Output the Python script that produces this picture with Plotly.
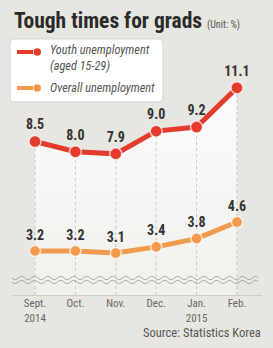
import numpy as np
import plotly.graph_objects as go

months = ["Sept.<br>2014", "Oct.", "Nov.", "Dec.", "Jan.<br>2015", "Feb."]
youth = [8.5, 8.0, 7.9, 9.0, 9.2, 11.1]
overall = [3.2, 3.2, 3.1, 3.4, 3.8, 4.6]
youth_labels = [f"{v:.1f}" for v in youth]
overall_labels = [f"{v:.1f}" for v in overall]
series_names = ["Youth unemployment<br>(aged 15-29)", "Overall unemployment"]

W, H = 273, 348
ML, MR, MT, MB = 12, 11, 40, 53
PW, PH = W - ML - MR, H - MT - MB
Y_RANGE = [1.07, 13.41]
X_RANGE = [-0.57, 5.62]

def xp(px):
    return (px - ML) / PW

def yp(py):
    return (H - MB - py) / PH

RED = "#e43b2d"
ORANGE = "#f29a4c"
BG = "#e8e6e1"
FONT = "Roboto Condensed, Open Sans Condensed, Liberation Sans, sans-serif"

xs = list(range(len(months)))
fig = go.Figure()

# fill under youth line
fig.add_trace(go.Scatter(
    x=xs, y=youth, mode="lines", line=dict(width=0),
    fill="tozeroy",
    fillgradient=dict(type="vertical",
                      colorscale=[[0, "rgba(255,255,255,0.35)"], [1, "rgba(255,255,255,0.88)"]]),
    showlegend=False, hoverinfo="skip"))

# dotted guide lines
for i, v in enumerate(youth):
    fig.add_trace(go.Scatter(
        x=[xs[i], xs[i]], y=[Y_RANGE[0], v], mode="lines",
        line=dict(color="#c9c7c2", width=1, dash="dot"),
        showlegend=False, hoverinfo="skip"))

fig.add_trace(go.Scatter(
    x=xs, y=youth, mode="lines+markers+text",
    name=series_names[0], showlegend=False,
    line=dict(color=RED, width=5),
    marker=dict(color=RED, size=12, line=dict(color="rgba(255,255,255,0.7)", width=1.5)),
    text=youth_labels, textposition="top center",
    textfont=dict(family=FONT, size=14, color="#333333", weight="bold")))

fig.add_trace(go.Scatter(
    x=xs, y=overall, mode="lines+markers+text",
    name=series_names[1], showlegend=False,
    line=dict(color=ORANGE, width=5),
    marker=dict(color=ORANGE, size=11, line=dict(color="rgba(255,255,255,0.7)", width=1.5)),
    text=overall_labels, textposition="top center",
    textfont=dict(family=FONT, size=14, color="#333333", weight="bold")))

# wavy axis-break decoration
def wave_path(y0_px, x0_px=12, x1_px=258, wl=13.0, amp=1.6):
    pts = np.linspace(x0_px, x1_px, 200)
    ys = y0_px + amp * np.sin(2 * np.pi * (pts - x0_px) / wl)
    return "M " + " L ".join(f"{xp(a):.5f},{yp(b):.5f}" for a, b in zip(pts, ys))

shapes = []
for yy in (278, 282):
    shapes.append(dict(type="path", xref="paper", yref="paper", path=wave_path(yy),
                       line=dict(color="#a9a7a3", width=1)))

# legend box (rounded rectangle)
def rrect(x0, y0, x1, y1, r=5):
    p = [f"M {xp(x0 + r)},{yp(y0)}", f"L {xp(x1 - r)},{yp(y0)}",
         f"Q {xp(x1)},{yp(y0)} {xp(x1)},{yp(y0 + r)}", f"L {xp(x1)},{yp(y1 - r)}",
         f"Q {xp(x1)},{yp(y1)} {xp(x1 - r)},{yp(y1)}", f"L {xp(x0 + r)},{yp(y1)}",
         f"Q {xp(x0)},{yp(y1)} {xp(x0)},{yp(y1 - r)}", f"L {xp(x0)},{yp(y0 + r)}",
         f"Q {xp(x0)},{yp(y0)} {xp(x0 + r)},{yp(y0)}", "Z"]
    return " ".join(p)

shapes.append(dict(type="path", xref="paper", yref="paper", path=rrect(10, 39, 163, 102),
                   fillcolor="white", line=dict(color="#d6d4cf", width=1), layer="above"))
for col, yy in ((RED, 52), (ORANGE, 88)):
    shapes.append(dict(type="line", xref="paper", yref="paper", x0=xp(17), x1=xp(33),
                       y0=yp(yy), y1=yp(yy), line=dict(color=col, width=4), layer="above"))
    shapes.append(dict(type="circle", xref="paper", yref="paper", x0=xp(33.5), x1=xp(41),
                       y0=yp(yy - 3.75), y1=yp(yy + 3.75), fillcolor=col,
                       line=dict(color=col, width=0), layer="above"))

LEG_FONT = dict(family=FONT, size=12.3, color="#555555", style="italic")
legend_texts = [(series_names[0], 58.5), (series_names[1], 88)]
annotations = [dict(x=xp(48), y=yp(yy), xref="paper", yref="paper", xanchor="left",
                    yanchor="middle", align="left", showarrow=False, text=t, font=LEG_FONT)
               for t, yy in legend_texts]

annotations += [
    dict(x=xp(12), y=yp(20), xref="paper", yref="paper", xanchor="left", yanchor="middle",
         showarrow=False,
         text="<b>Tough times for grads</b> <span style='font-size:10px;color:#555555'>(Unit: %)</span>",
         font=dict(family=FONT, size=21.5, color="#2b2b2b")),
    dict(x=xp(263), y=yp(332), xref="paper", yref="paper", xanchor="right", yanchor="middle",
         showarrow=False, text="Source: Statistics Korea",
         font=dict(family=FONT, size=12.5, color="#555555")),
]

fig.update_layout(
    width=W, height=H,
    margin=dict(l=ML, r=MR, t=MT, b=MB),
    paper_bgcolor=BG, plot_bgcolor="rgba(0,0,0,0)",
    font=dict(family=FONT, color="#555555"),
    shapes=shapes,
    showlegend=False,
    xaxis=dict(range=X_RANGE, tickvals=xs, ticktext=months, showgrid=False,
               zeroline=False, showline=True, linecolor="#cfcdc8", linewidth=1,
               ticks="", ticklabelstandoff=-2,
               tickfont=dict(family=FONT, size=11, color="#666666"),
               fixedrange=True),
    yaxis=dict(range=Y_RANGE, visible=False, fixedrange=True),
    annotations=annotations,
)

fig.write_html("out.html", config={"displayModeBar": False},
               post_script="document.body.style.margin='0';")
